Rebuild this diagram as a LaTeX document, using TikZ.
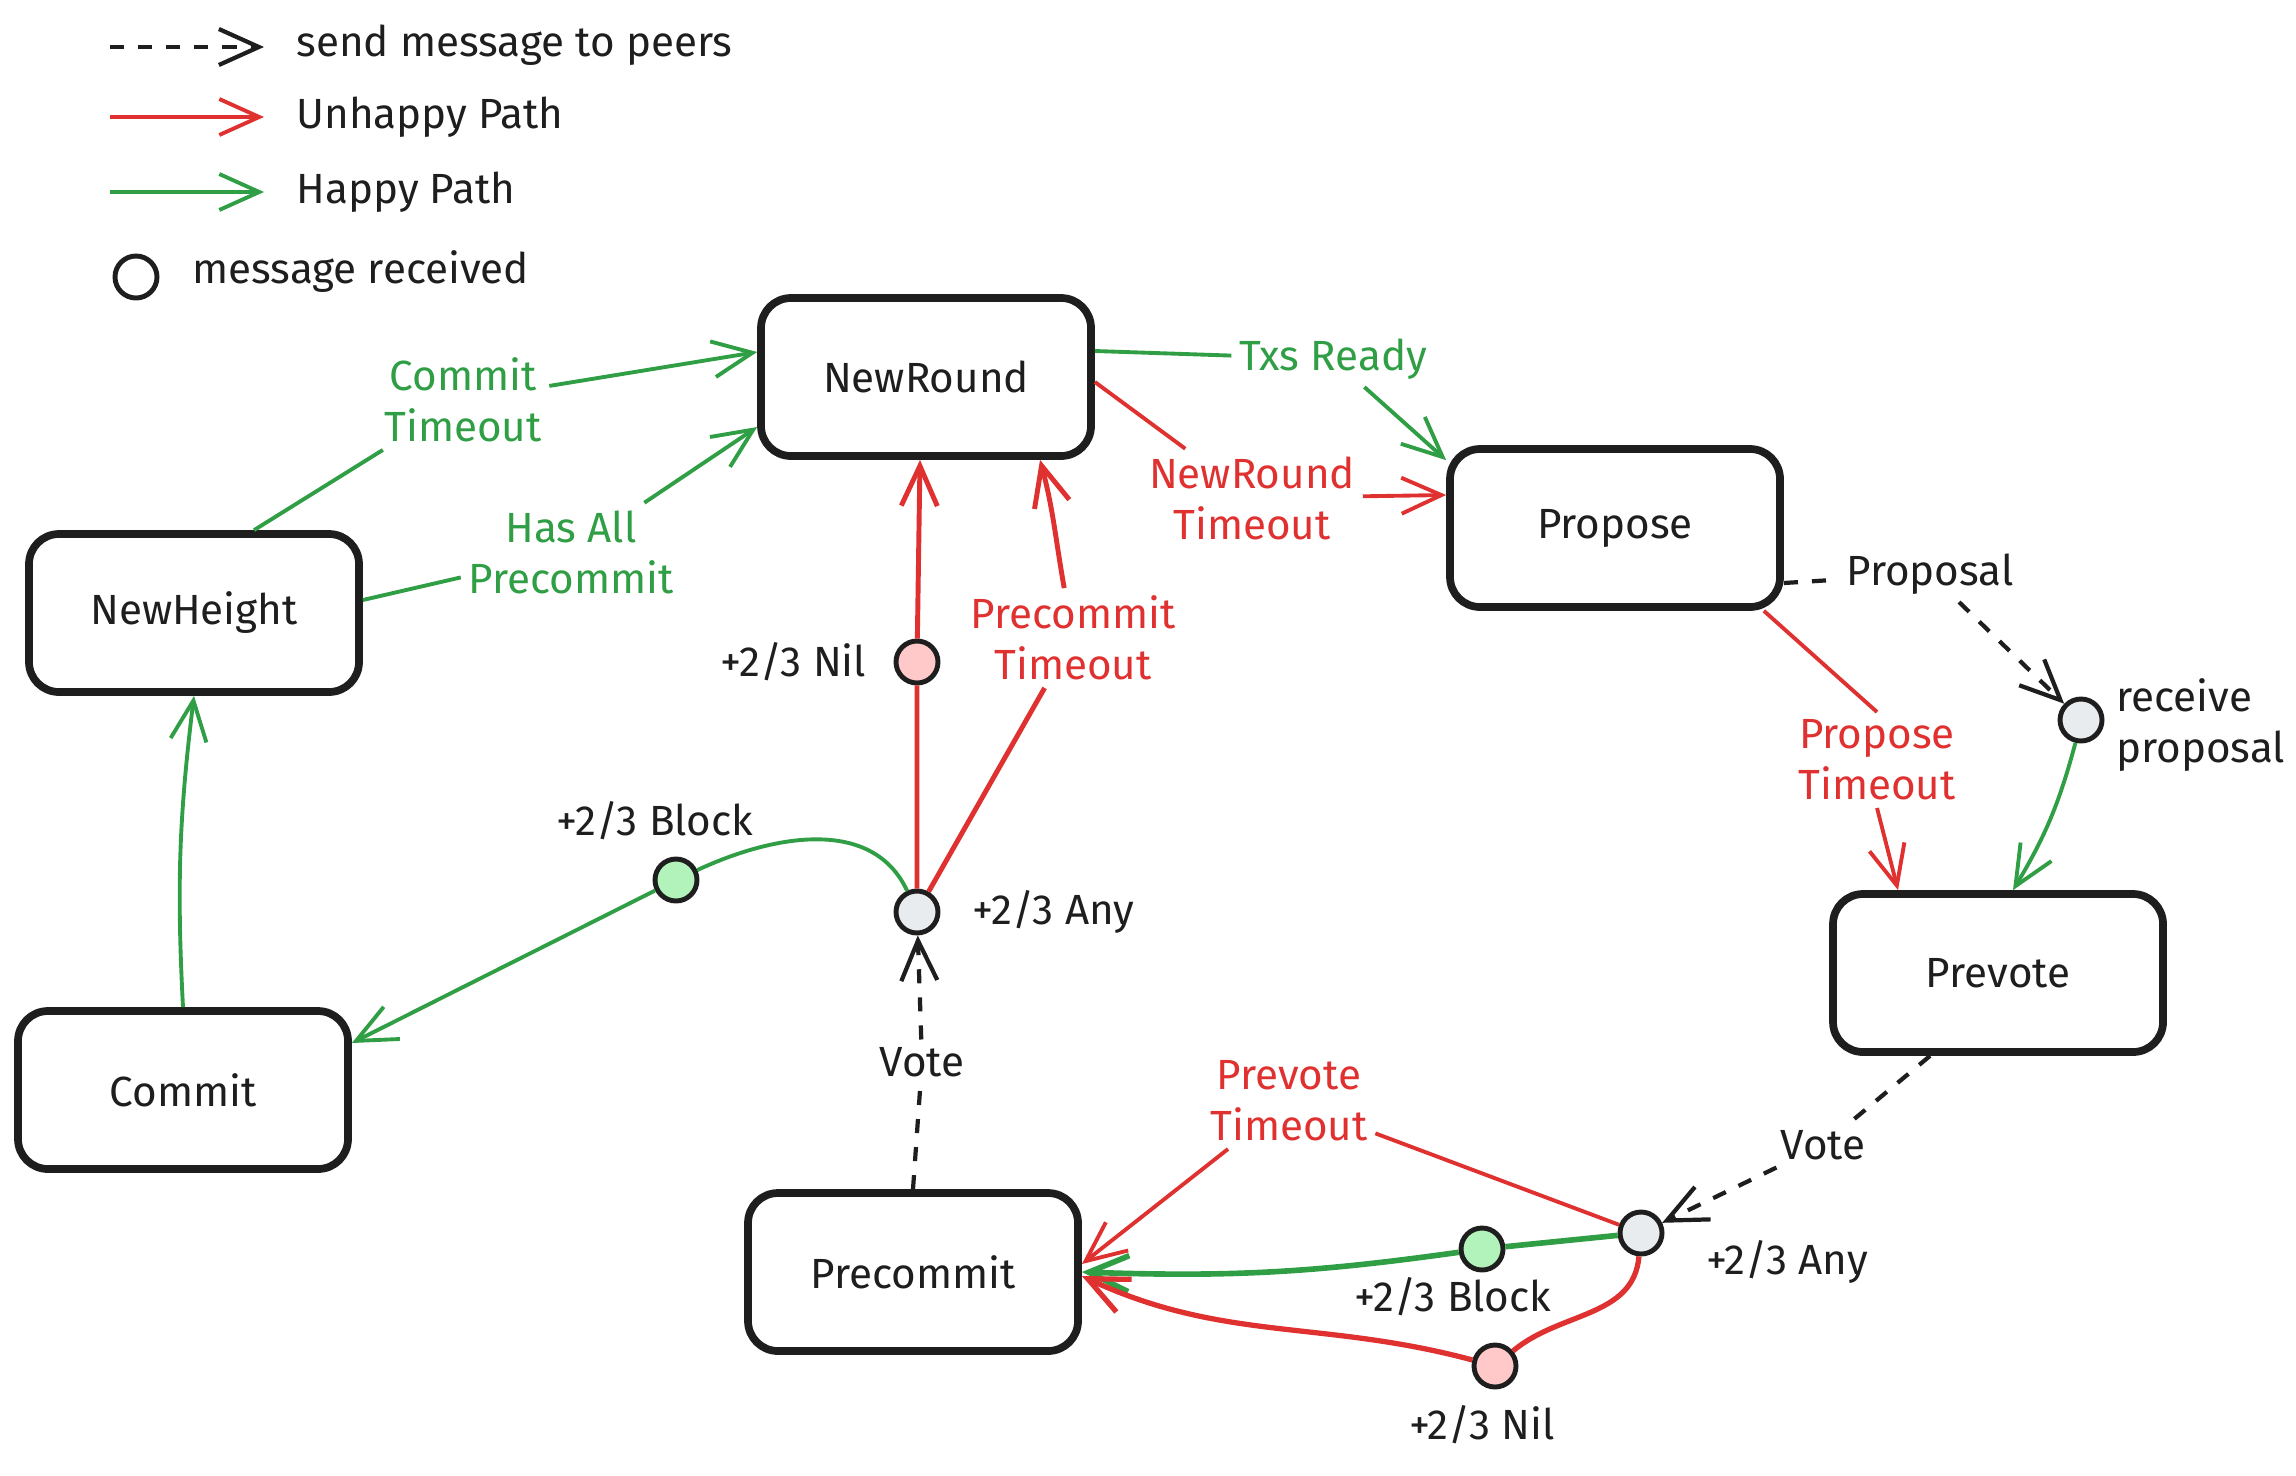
\documentclass[tikz,border=0pt]{standalone}
\usepackage{fontspec}
\setmainfont{Fira Sans}
\usetikzlibrary{positioning, arrows.meta}

\definecolor{ink}{HTML}{1E1E1E}
\definecolor{happygreen}{HTML}{2F9E44}
\definecolor{unhappyred}{HTML}{E03131}
\definecolor{anyfill}{HTML}{E9ECEF}
\definecolor{nilfill}{HTML}{FFC9C9}
\definecolor{blockfill}{HTML}{B2F2BB}

\begin{document}
\begin{tikzpicture}[
    every node/.style={font=\fontsize{12}{14.5}\selectfont, text=ink},
    statebox/.style={
        rectangle, rounded corners=0.3cm,
        fill=white, draw=ink, line width=2.2pt,
        minimum width=3.3cm, minimum height=1.58cm,
        align=center
    },
    recvdot/.style={circle, draw=ink, line width=1.4pt,
        minimum size=0.42cm, inner sep=0pt},
    flowlabel/.style={align=center, inner sep=2pt},
    barb/.style={-{Straight Barb[length=4mm, width=3.6mm]}},
    happyarrow/.style={barb, draw=happygreen, line width=1.1pt},
    unhappyarrow/.style={barb, draw=unhappyred, line width=1.1pt},
    msgarrow/.style={barb, draw=ink, line width=1.2pt,
        dash pattern=on 4pt off 4pt}
]

\useasboundingbox (0,0) rectangle (22.96,-14.75);

%% ── Legend ─────────────────────────────────────────────────────────
\coordinate (legMsgA) at (1.10,-0.47);
\coordinate (legMsgB) at (2.64,-0.47);
\coordinate (legRedA) at (1.10,-1.17);
\coordinate (legRedB) at (2.64,-1.17);
\coordinate (legGreenA) at (1.10,-1.92);
\coordinate (legGreenB) at (2.64,-1.92);

\draw[msgarrow] (legMsgA) -- (legMsgB);
\draw[unhappyarrow] (legRedA) -- (legRedB);
\draw[happyarrow] (legGreenA) -- (legGreenB);

\node[anchor=west] (legMsg) at (2.84,-0.45) {send message to peers};
\node[anchor=west] (legRed) at (2.84,-1.17) {Unhappy Path};
\node[anchor=west] (legGreen) at (2.84,-1.92) {Happy Path};
\node[recvdot] (legDot) at (1.36,-2.77) {};
\node[anchor=west] (legRecv) at (1.80,-2.72) {message received};

%% ── States ─────────────────────────────────────────────────────────
\node[statebox] (nr) at (9.26,-3.77)  {NewRound};
\node[statebox] (pr) at (16.15,-5.28) {Propose};
\node[statebox] (nh) at (1.94,-6.13)  {NewHeight};
\node[statebox] (cm) at (1.83,-10.90) {Commit};
\node[statebox] (pv) at (19.98,-9.73) {Prevote};
\node[statebox] (pc) at (9.13,-12.72) {Precommit};

%% ── Received-message dots ──────────────────────────────────────────
\node[recvdot, fill=nilfill]   (nilTop)   at (9.17,-6.62)  {};
\node[recvdot, fill=anyfill]   (anyTop)   at (9.17,-9.12)  {};
\node[recvdot, fill=blockfill] (blockTop) at (6.76,-8.80)  {};
\node[recvdot, fill=anyfill]   (recv)     at (20.81,-7.20) {};
\node[recvdot, fill=anyfill]   (anyBot)   at (16.41,-12.33) {};
\node[recvdot, fill=blockfill] (blockBot) at (14.82,-12.49) {};
\node[recvdot, fill=nilfill]   (nilBot)   at (14.95,-13.66) {};

\node[left=0.15cm of nilTop] (nilTopLbl) {+2/3 Nil};
\node (blockTopLbl) at (6.55,-8.21) {+2/3 Block};
\node[right=0.2cm of anyTop] (anyTopLbl) {+2/3 Any};
\node[anchor=west, align=left] (recvLbl) at (21.04,-7.25) {receive\\proposal};
\node[anchor=west] (anyBotLbl) at (16.94,-12.62) {+2/3 Any};
\node (blockBotLbl) at (14.53,-12.97) {+2/3 Block};
\node (nilBotLbl) at (14.82,-14.25) {+2/3 Nil};

%% ── Transition labels ──────────────────────────────────────────────
\node[flowlabel, text=happygreen] (ctLbl)  at (4.63,-4.00)  {Commit\\Timeout};
\node[flowlabel, text=happygreen] (hapLbl) at (5.71,-5.52)  {Has All\\Precommit};
\node[flowlabel, text=happygreen] (txsLbl) at (13.33,-3.59) {Txs Ready};
\node[flowlabel, text=unhappyred] (nrtLbl) at (12.52,-4.98) {NewRound\\Timeout};
\node[flowlabel, text=unhappyred] (pctLbl) at (10.73,-6.38) {Precommit\\Timeout};
\node[flowlabel, text=unhappyred] (ptLbl)  at (18.77,-7.60) {Propose\\Timeout};
\node[flowlabel, text=unhappyred] (pvtLbl) at (12.89,-11.01) {Prevote\\Timeout};
\node[flowlabel] (propLbl)   at (19.30,-5.74)  {Proposal};
\node[flowlabel] (voteUpLbl) at (9.22,-10.62)  {Vote};
\node[flowlabel] (voteDnLbl) at (18.23,-11.45) {Vote};

%% ── Happy path ─────────────────────────────────────────────────────
\draw[happyarrow] ([xshift=0.6cm]nh.north) -- (ctLbl) -- ([yshift=0.25cm]nr.west);
\draw[happyarrow] ([yshift=0.13cm]nh.east) -- (hapLbl) -- ([yshift=-0.5cm]nr.west);
\draw[happyarrow] ([yshift=0.26cm]nr.east) -- (txsLbl) -- ([yshift=-0.15cm]pr.north west);
\draw[happyarrow] (recv) to[bend left=8] ([xshift=0.15cm]pv.north);
\draw[happyarrow, line width=1.6pt] (anyBot) -- (blockBot)
    to[out=188, in=-2] (pc.east);
\draw[happyarrow] (anyTop) to[out=115, in=25] (blockTop)
    -- ([yshift=0.47cm]cm.east);
\draw[happyarrow] (cm.north) to[bend left=5] (nh.south);

%% ── Unhappy path ───────────────────────────────────────────────────
\draw[unhappyarrow] ([yshift=-0.05cm]nr.east) -- (nrtLbl) -- ([yshift=0.33cm]pr.west);
\draw[unhappyarrow] ([xshift=-0.2cm]pr.south east) -- (ptLbl.north)
    (ptLbl.south) -- ([xshift=-1.0cm]pv.north);
\draw[unhappyarrow] (anyBot) -- (pvtLbl) -- ([yshift=0.08cm]pc.east);
\draw[unhappyarrow, line width=1.5pt] (anyBot) to[out=-95, in=40] (nilBot)
    to[out=165, in=-25] ([yshift=-0.04cm]pc.east);
\draw[unhappyarrow, line width=1.4pt] (anyTop) -- (nilTop) -- ([xshift=-0.06cm]nr.south);
\draw[unhappyarrow, line width=1.4pt] (anyTop) -- (pctLbl)
    to[out=100, in=-75] ([xshift=1.14cm]nr.south);

%% ── Messages to peers ──────────────────────────────────────────────
\draw[msgarrow] ([yshift=-0.55cm]pr.east) -- (propLbl) -- (recv);
\draw[msgarrow] (pc.north) -- (voteUpLbl) -- (anyTop);
\draw[msgarrow] ([xshift=-0.68cm]pv.south) -- (voteDnLbl) -- (anyBot);

\end{tikzpicture}
\end{document}
